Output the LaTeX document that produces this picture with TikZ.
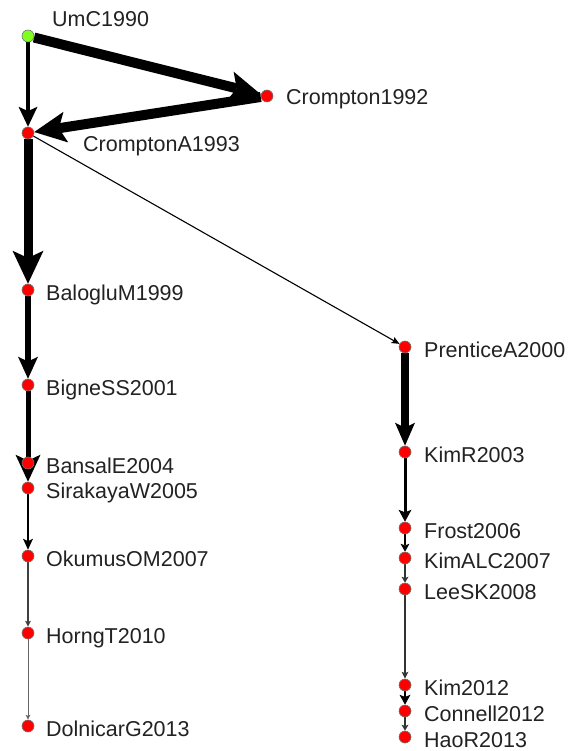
\documentclass[tikz,border=0pt]{standalone}
\usepackage{fontspec}
\setmainfont{Liberation Sans}
\usetikzlibrary{arrows.meta,backgrounds}
\definecolor{nodered}{HTML}{FF0000}
\definecolor{nodegreen}{HTML}{7FFF1F}
\definecolor{labelgray}{HTML}{222222}
\tikzset{
  paper/.style={circle,minimum size=12pt,inner sep=0pt,fill=nodered,draw=black!55,line width=0.6pt},
  seed/.style={paper,fill=nodegreen},
  tag/.style={anchor=base west,inner sep=0pt,font=\fontsize{21.5}{24}\selectfont,text=labelgray},
  cite/.style n args={4}{line width=#1pt,draw=#4,
    -{Stealth[length=#2pt,width=#3pt,inset=0.22*#2pt,line width=0pt]}},
}
\begin{document}
\begin{tikzpicture}[x=1pt,y=-1pt]
\useasboundingbox (0,0) rectangle (571,751);

% papers (left branch)
\node[seed]  (umc)    at (28,36)  {};
\node[paper] (cr92)   at (267,96) {};
\node[paper] (cra93)  at (28,133) {};
\node[paper] (bal99)  at (28,290) {};
\node[paper] (big01)  at (28,385) {};
\node[paper] (ban04)  at (28,463) {};
\node[paper] (sir05)  at (28,488) {};
\node[paper] (oku07)  at (28,556) {};
\node[paper] (hor10)  at (28,633) {};
\node[paper] (dol13)  at (28,726) {};
% papers (right branch)
\node[paper] (pre00)  at (405,347) {};
\node[paper] (kimr03) at (405,452) {};
\node[paper] (fro06)  at (405,528) {};
\node[paper] (kima07) at (405,558) {};
\node[paper] (lee08)  at (405,589) {};
\node[paper] (kim12)  at (405,685) {};
\node[paper] (con12)  at (405,711) {};
\node[paper] (hao13)  at (405,737) {};

% labels
\node[tag] (t-umc)    at (52,27)   {UmC1990};
\node[tag] (t-cr92)   at (286,105) {Crompton1992};
\node[tag] (t-cra93)  at (83,152)  {CromptonA1993};
\node[tag] (t-bal99)  at (46,300)  {BalogluM1999};
\node[tag] (t-big01)  at (46,395)  {BigneSS2001};
\node[tag] (t-ban04)  at (46,473)  {BansalE2004};
\node[tag] (t-sir05)  at (46,498)  {SirakayaW2005};
\node[tag] (t-oku07)  at (46,566)  {OkumusOM2007};
\node[tag] (t-hor10)  at (46,643)  {HorngT2010};
\node[tag] (t-dol13)  at (46,736)  {DolnicarG2013};
\node[tag] (t-pre00)  at (424,357) {PrenticeA2000};
\node[tag] (t-kimr03) at (424,462) {KimR2003};
\node[tag] (t-fro06)  at (424,538) {Frost2006};
\node[tag] (t-kima07) at (424,568) {KimALC2007};
\node[tag] (t-lee08)  at (424,599) {LeeSK2008};
\node[tag] (t-kim12)  at (424,695) {Kim2012};
\node[tag] (t-con12)  at (424,721) {Connell2012};
\node[tag] (t-hao13)  at (424,747) {HaoR2013};

% citation links, weight shown by width
\begin{scope}[on background layer]
\draw[cite={4}{20}{19}{black}]   (umc) -- (cra93);
\draw[cite={10}{32}{31}{black}]  (umc) -- (cr92);
\draw[cite={10}{32}{31}{black}]  (cr92) -- (cra93);
\draw[cite={9}{33}{31}{black}]   (cra93) -- (bal99);
\draw[cite={1.1}{8}{7}{black}]   (cra93) -- (pre00);
\draw[cite={6}{22}{20}{black}]   (bal99) -- (big01);
\draw[cite={5}{27}{25}{black}]   (big01) -- (sir05);
\draw[cite={2}{11}{10}{black}]   (sir05) -- (oku07);
\draw[cite={1.1}{6}{6}{black!75}] (oku07) -- (hor10);
\draw[cite={1}{5}{5}{black!60}]  (hor10) -- (dol13);
\draw[cite={8}{23}{20}{black}]   (pre00) -- (kimr03);
\draw[cite={3}{12}{13}{black}]   (kimr03) -- (fro06);
\draw[cite={2}{8}{9}{black}]     (fro06) -- (kima07);
\draw[cite={1.5}{6}{7}{black!80}] (kima07) -- (lee08);
\draw[cite={1.3}{7}{7}{black!80}] (lee08) -- (kim12);
\draw[cite={2.5}{10}{11}{black}] (kim12) -- (con12);
\draw[cite={1.5}{6}{7}{black!80}] (con12) -- (hao13);
\end{scope}
\end{tikzpicture}
\end{document}
